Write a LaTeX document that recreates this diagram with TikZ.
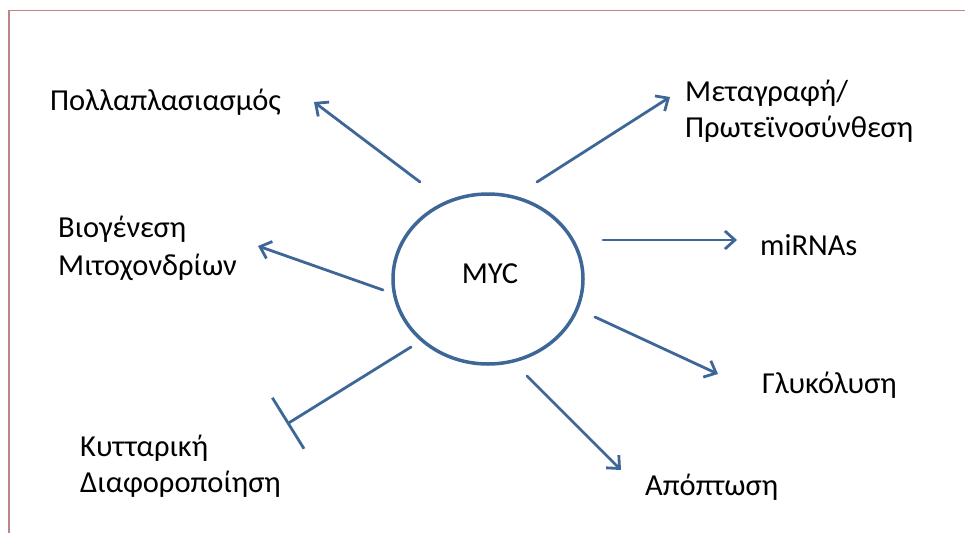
\documentclass[tikz,border=0pt]{standalone}
\usepackage{fontspec}
\setmainfont{Carlito}
\usetikzlibrary{arrows.meta,shapes.geometric}
\definecolor{linkblue}{HTML}{3E6797}
\definecolor{framered}{HTML}{C08484}
\begin{document}
\begin{tikzpicture}[x=1pt,y=-1pt,
  lbl/.style={anchor=base west, inner sep=0pt, font=\fontsize{30.5}{36}\selectfont},
  link/.style={draw=linkblue, line width=2.8pt, line cap=round,
    -{Straight Barb[length=10pt,width=18pt,line width=2.8pt]}},
  block/.style={draw=linkblue, line width=2.8pt, line cap=round,
    -{Bar[width=60pt,line width=2.8pt]}}]
  \useasboundingbox (0,0) rectangle (965,533);
  % frame
  \draw[framered, line width=1.4pt] (9,533) -- (9,10.5) -- (965,10.5);

  % central gene
  \node[draw=linkblue, line width=3.5pt, ellipse, minimum width=190pt, minimum height=170pt,
        inner sep=0pt] (myc) at (488,279) {};
  \node[lbl, anchor=base] (myctext) at (490,283) {MYC};

  % labels
  \node[lbl] (prolif) at (50,110) {Πολλαπλασιασμός};
  \node[lbl] (trans1) at (685,101) {Μεταγραφή/};
  \node[lbl] (trans2) at (685,137) {Πρωτεϊνοσύνθεση};
  \node[lbl] (bio1) at (58,237) {Βιογένεση};
  \node[lbl] (bio2) at (58,275) {Μιτοχονδρίων};
  \node[lbl] (mirna) at (760,255) {miRNAs};
  \node[lbl] (glyc) at (762,393) {Γλυκόλυση};
  \node[lbl] (diff1) at (80,456) {Κυτταρική};
  \node[lbl] (diff2) at (80,492) {Διαφοροποίηση};
  \node[lbl] (apop) at (645,495) {Απόπτωση};

  % connector end points
  \coordinate (sProlif) at (420,182);  \coordinate (tProlif) at (314,102);
  \coordinate (sTrans)  at (537,182);  \coordinate (tTrans)  at (670,97);
  \coordinate (sBio)    at (383,290);  \coordinate (tBio)    at (258,246);
  \coordinate (sMirna)  at (603,240);  \coordinate (tMirna)  at (737,240);
  \coordinate (sGlyc)   at (595,317);  \coordinate (tGlyc)   at (718,374);
  \coordinate (sApop)   at (527,376);  \coordinate (tApop)   at (621,470);
  \coordinate (sDiff)   at (411,347);  \coordinate (tDiff)   at (287,424);

  % connectors
  \draw[link] (sProlif) -- (tProlif);
  \draw[link] (sTrans) -- (tTrans);
  \draw[link] (sBio) -- (tBio);
  \draw[link] (sMirna) -- (tMirna);
  \draw[link] (sGlyc) -- (tGlyc);
  \draw[link] (sApop) -- (tApop);
  \draw[block] (sDiff) -- (tDiff);
\end{tikzpicture}
\end{document}
